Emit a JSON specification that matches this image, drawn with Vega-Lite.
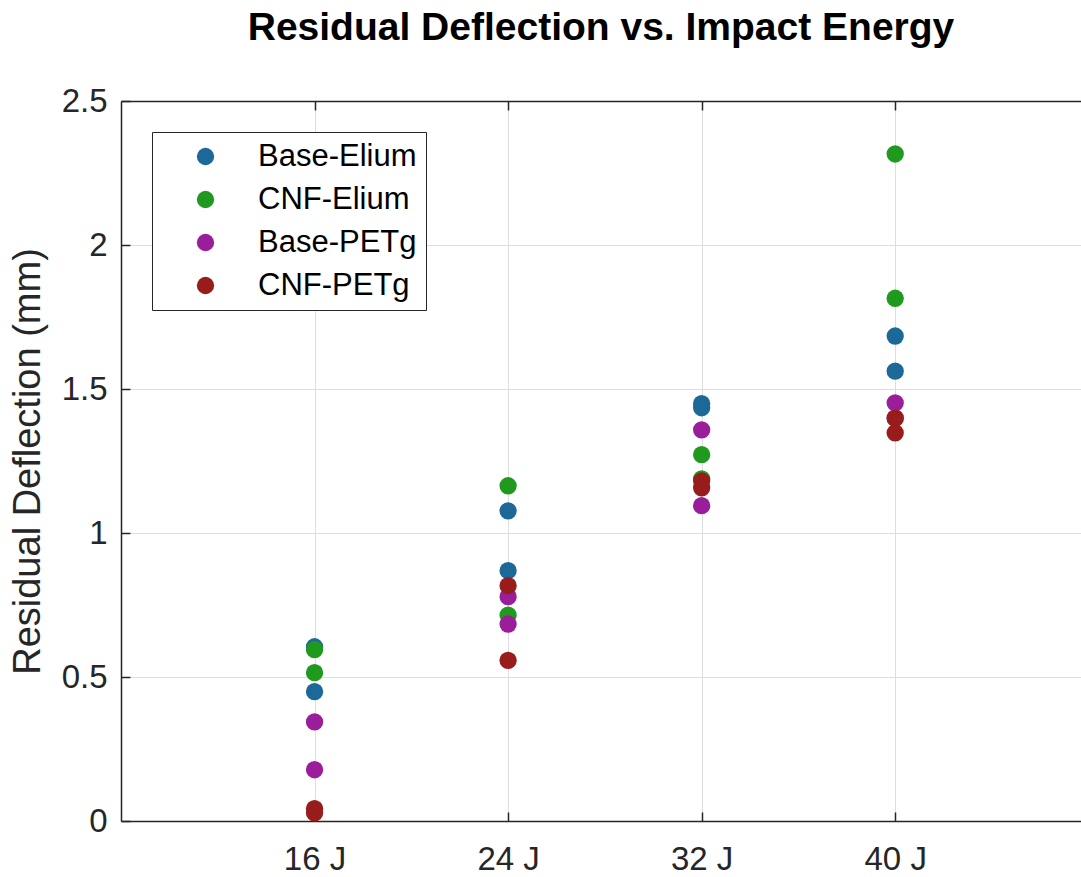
{
  "$schema": "https://vega.github.io/schema/vega-lite/v6.json",
  "width": 960,
  "height": 720,
  "autosize": {"type": "none"},
  "padding": {"left": 121, "top": 101, "right": 0, "bottom": 56},
  "background": "white",
  "config": {"view": {"stroke": null}, "font": "Liberation Sans"},
  "title": {"text": "Residual Deflection vs. Impact Energy", "fontSize": 39, "fontWeight": "bold", "color": "#000000", "anchor": "middle", "offset": 37, "font": "Liberation Sans"},
  "data": {
    "values": [
      {"energy": 16, "deflection": 0.605, "series": "Base-Elium"},
      {"energy": 16, "deflection": 0.449, "series": "Base-Elium"},
      {"energy": 24, "deflection": 1.077, "series": "Base-Elium"},
      {"energy": 24, "deflection": 0.869, "series": "Base-Elium"},
      {"energy": 32, "deflection": 1.449, "series": "Base-Elium"},
      {"energy": 32, "deflection": 1.435, "series": "Base-Elium"},
      {"energy": 40, "deflection": 1.684, "series": "Base-Elium"},
      {"energy": 40, "deflection": 1.562, "series": "Base-Elium"},
      {"energy": 16, "deflection": 0.595, "series": "CNF-Elium"},
      {"energy": 16, "deflection": 0.515, "series": "CNF-Elium"},
      {"energy": 24, "deflection": 1.164, "series": "CNF-Elium"},
      {"energy": 24, "deflection": 0.715, "series": "CNF-Elium"},
      {"energy": 32, "deflection": 1.272, "series": "CNF-Elium"},
      {"energy": 32, "deflection": 1.188, "series": "CNF-Elium"},
      {"energy": 40, "deflection": 2.316, "series": "CNF-Elium"},
      {"energy": 40, "deflection": 1.815, "series": "CNF-Elium"},
      {"energy": 16, "deflection": 0.344, "series": "Base-PETg"},
      {"energy": 16, "deflection": 0.178, "series": "Base-PETg"},
      {"energy": 24, "deflection": 0.779, "series": "Base-PETg"},
      {"energy": 24, "deflection": 0.684, "series": "Base-PETg"},
      {"energy": 32, "deflection": 1.358, "series": "Base-PETg"},
      {"energy": 32, "deflection": 1.095, "series": "Base-PETg"},
      {"energy": 40, "deflection": 1.452, "series": "Base-PETg"},
      {"energy": 40, "deflection": 1.4, "series": "Base-PETg"},
      {"energy": 16, "deflection": 0.043, "series": "CNF-PETg"},
      {"energy": 16, "deflection": 0.028, "series": "CNF-PETg"},
      {"energy": 24, "deflection": 0.817, "series": "CNF-PETg"},
      {"energy": 24, "deflection": 0.558, "series": "CNF-PETg"},
      {"energy": 32, "deflection": 1.181, "series": "CNF-PETg"},
      {"energy": 32, "deflection": 1.157, "series": "CNF-PETg"},
      {"energy": 40, "deflection": 1.398, "series": "CNF-PETg"},
      {"energy": 40, "deflection": 1.348, "series": "CNF-PETg"}
    ]
  },
  "layer": [
    {
      "mark": {"type": "point", "filled": true, "size": 300, "opacity": 1, "shape": "circle", "strokeWidth": 0},
      "encoding": {
        "x": {
          "field": "energy", "type": "quantitative",
          "scale": {"domain": [8, 47.68], "nice": false, "zero": false},
          "axis": {"orient": "bottom", "values": [16, 24, 32, 40], "labelExpr": "datum.value + ' J'", "title": null,
                   "labelFontSize": 33, "labelColor": "#262626", "labelPadding": 31,
                   "tickSize": -9, "tickColor": "#262626", "tickWidth": 1.5,
                   "domainColor": "#262626", "domainWidth": 1.5,
                   "grid": true, "gridColor": "#dedede", "gridWidth": 1}
        },
        "y": {
          "field": "deflection", "type": "quantitative",
          "scale": {"domain": [0, 2.5], "nice": false},
          "axis": {"values": [0, 0.5, 1, 1.5, 2, 2.5], "format": "~g", "title": "Residual Deflection (mm)",
                   "titleFontSize": 38, "titleFontWeight": "normal", "titleColor": "#262626",
                   "titleX": -82, "titleY": 360, "titleAlign": "center", "titleBaseline": "alphabetic", "titleAngle": 270,
                   "labelFontSize": 33, "labelColor": "#262626", "labelPadding": 23,
                   "tickSize": -9, "tickColor": "#262626", "tickWidth": 1.5,
                   "domainColor": "#262626", "domainWidth": 1.5,
                   "grid": true, "gridColor": "#dedede", "gridWidth": 1}
        },
        "color": {
          "field": "series", "type": "nominal",
          "scale": {"domain": ["Base-Elium", "CNF-Elium", "Base-PETg", "CNF-PETg"],
                    "range": ["#1b6899", "#1f9a1f", "#9a1e9a", "#991c1c"]},
          "legend": {"orient": "none", "legendX": 31, "legendY": 31, "title": null,
                     "labelFontSize": 31, "labelColor": "#000000", "labelLimit": 400,
                     "symbolSize": 300, "symbolType": "circle", "symbolStrokeWidth": 0, "symbolOpacity": 1,
                     "strokeColor": "#262626", "fillColor": "#ffffff",
                     "padding": 9, "rowPadding": 11, "symbolOffset": 29, "labelOffset": 37}
        }
      }
    },
    {
      "mark": {"type": "point", "opacity": 0},
      "encoding": {
        "x": {
          "field": "energy", "type": "quantitative",
          "axis": {"orient": "top", "values": [16, 24, 32, 40], "labels": false, "title": null, "grid": false,
                   "tickSize": -9, "tickColor": "#262626", "tickWidth": 1.5,
                   "domainColor": "#262626", "domainWidth": 1.5}
        },
        "y": {"field": "deflection", "type": "quantitative", "title": "Residual Deflection (mm)"}
      }
    }
  ],
  "resolve": {"axis": {"x": "independent"}}
}
